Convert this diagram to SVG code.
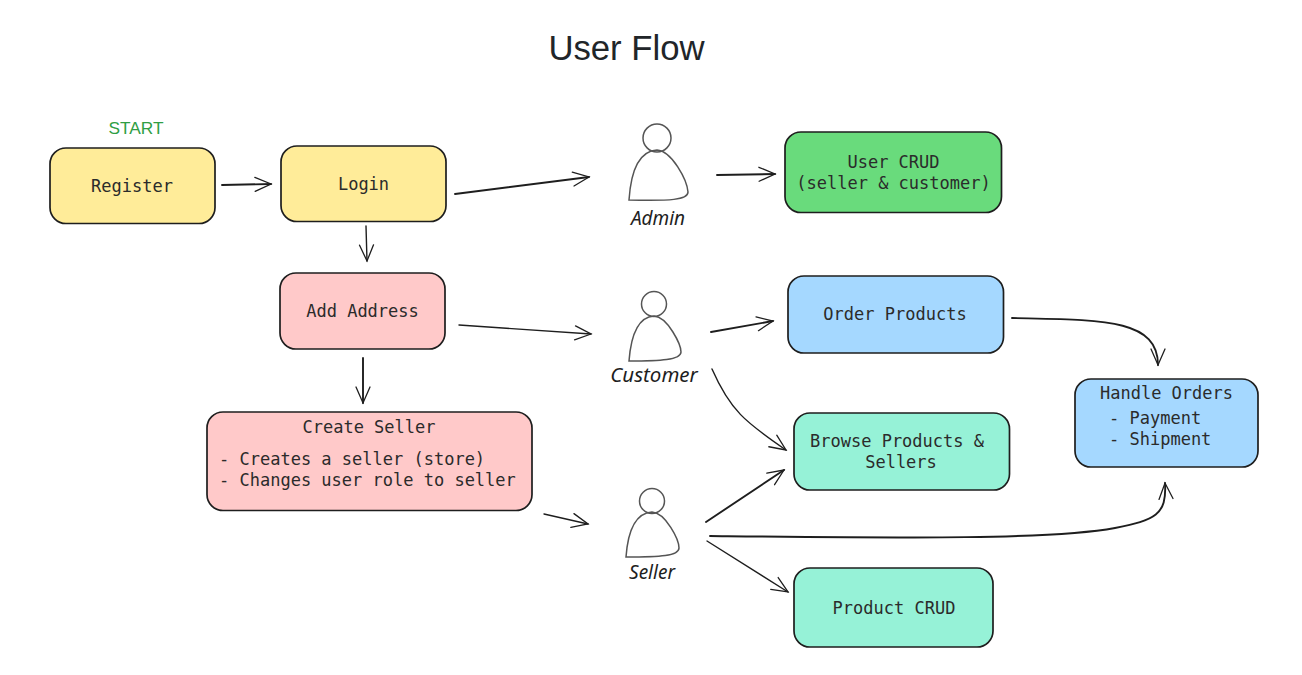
<svg xmlns="http://www.w3.org/2000/svg" width="1302" height="675" viewBox="0 0 1302 675">
<defs>
<marker id="arr" viewBox="0 0 20 20" refX="18" refY="10" markerWidth="20" markerHeight="20" markerUnits="userSpaceOnUse" orient="auto"><path d="M2 3L18 10L2 17" fill="none" stroke="#1e1e1e" stroke-width="1.3" stroke-linecap="round"/></marker>
</defs>
<style>
.box{stroke:#1e1e1e;stroke-width:1.7}
.y{fill:#ffec99}.r{fill:#ffc9c9}.g{fill:#69db7c}.b{fill:#a5d8ff}.t{fill:#96f2d7}
.m{font-family:"DejaVu Sans Mono","Liberation Mono",monospace;font-size:17px;fill:#2b2b2b}
.c{text-anchor:middle}
.h{font-family:"Noto Sans","Liberation Sans",sans-serif;font-style:italic;font-size:19px;fill:#1e1e1e;text-anchor:middle}
.p{fill:none;stroke:#555;stroke-width:1.5}
.e{fill:none;stroke:#1e1e1e;stroke-width:1.9;stroke-linecap:round;marker-end:url(#arr)}
.n{stroke-width:1.4}
</style>
<rect width="1302" height="675" fill="#fff"/>
<text x="626.500" y="60" text-anchor="middle" font-family="Liberation Sans,Arial,sans-serif" font-size="34.700" fill="#212529">User Flow</text>
<text x="136" y="134" text-anchor="middle" font-family="Liberation Sans,Arial,sans-serif" font-size="17.300" fill="#2f9e44">START</text>
<g id="connectors">
<path class="e" d="M222 185L271 184"/>
<path class="e" d="M455 194L589 177"/>
<path class="e" d="M717 175L775 174"/>
<path class="e n" d="M366 226L367 261"/>
<path class="e n" d="M459 325L591 334"/>
<path class="e" d="M363 358L363 403"/>
<path class="e" d="M711 332L773 321"/>
<path class="e n" d="M712 369C730 410 745 422 786 450"/>
<path class="e n" d="M544 514L588 524"/>
<path class="e" d="M706 522L784 470"/>
<path class="e n" d="M707 541L788 592"/>
<path class="e" d="M1012 318C1100 320 1158 318 1158 365"/>
<path class="e" d="M710 536C900 538 1050 540 1115 528C1155 520 1167 515 1165 483"/>
</g>
<g id="register"><rect class="box y" x="50" y="148" width="165" height="75.500" rx="16"/><text class="m c" x="132" y="192">Register</text></g>
<g id="login"><rect class="box y" x="281" y="146" width="165" height="75.500" rx="16"/><text class="m c" x="363.500" y="190">Login</text></g>
<g id="add-address"><rect class="box r" x="280" y="273" width="165" height="76" rx="16"/><text class="m c" x="362.500" y="317">Add Address</text></g>
<g id="create-seller"><rect class="box r" x="207" y="412" width="325" height="98.500" rx="16"/><text class="m c" x="369" y="433">Create Seller</text><text class="m" x="219" y="465">- Creates a seller (store)</text><text class="m" x="219" y="486">- Changes user role to seller</text></g>
<g id="user-crud"><rect class="box g" x="785" y="132" width="216.500" height="80.500" rx="16"/><text class="m c" x="893.500" y="168">User CRUD</text><text class="m c" x="893.500" y="189">(seller &amp; customer)</text></g>
<g id="order-products"><rect class="box b" x="788" y="276" width="215.500" height="77" rx="16"/><text class="m c" x="895" y="320">Order Products</text></g>
<g id="browse"><rect class="box t" x="794" y="413" width="215.500" height="77" rx="16"/><text class="m c" x="897" y="447">Browse Products &amp;</text><text class="m c" x="901" y="468">Sellers</text></g>
<g id="product-crud"><rect class="box t" x="794" y="568" width="199" height="79" rx="16"/><text class="m c" x="894" y="614">Product CRUD</text></g>
<g id="handle-orders"><rect class="box b" x="1075" y="379" width="183" height="88" rx="16"/><text class="m c" x="1166.500" y="399">Handle Orders</text><text class="m" x="1109" y="424">- Payment</text><text class="m" x="1109" y="445">- Shipment</text></g>
<g id="admin"><circle class="p" cx="657" cy="138" r="14"/><path class="p" d="M629 200C631 170 640 151 657 150C672 151 687 180 688 192C688 200 670 201 629 200Z"/><text class="h" x="658" y="225">Admin</text></g>
<g id="customer"><circle class="p" cx="654" cy="304" r="12.500"/><path class="p" d="M629 361C631 335 638 317 654 316C668 317 681 345 681 352C681 360 660 361 629 361Z"/><text class="h" x="654" y="382" style="font-size:20.500px">Customer</text></g>
<g id="seller"><circle class="p" cx="652" cy="501" r="12.500"/><path class="p" d="M626 557C628 530 636 513 652 512C666 513 679 540 679 548C679 556 660 557 626 557Z"/><text class="h" x="652" y="579">Seller</text></g>
</svg>
